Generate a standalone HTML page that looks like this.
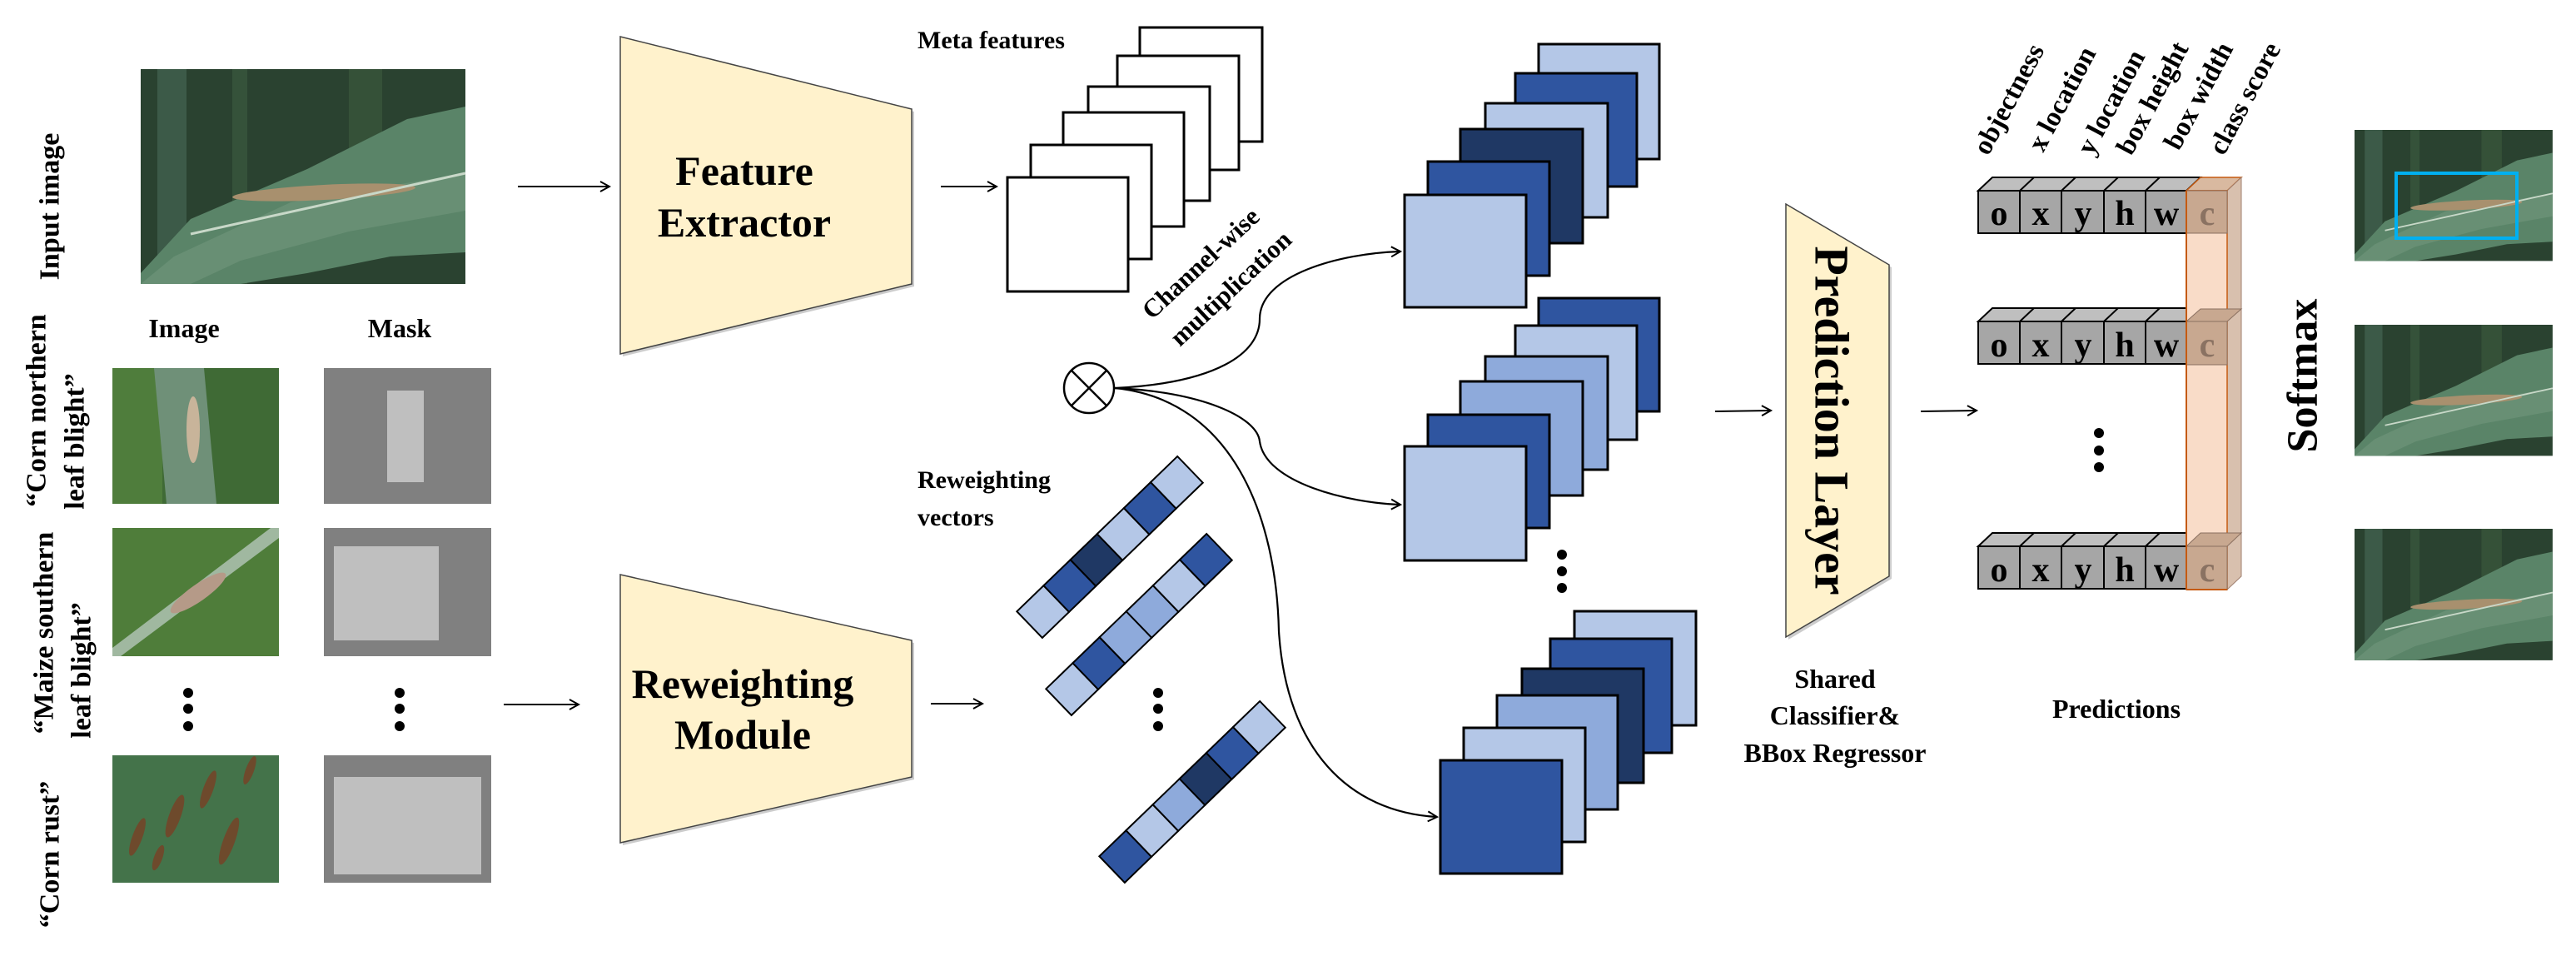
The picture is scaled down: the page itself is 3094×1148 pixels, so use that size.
<!DOCTYPE html>
<html><head><meta charset="utf-8"><style>
html,body{margin:0;padding:0;background:#fff;}
svg{display:block;}
text{font-family:"Liberation Serif",serif;font-weight:bold;fill:#000;}
</style></head><body>
<svg width="3094" height="1148" viewBox="0 0 3094 1148" xmlns="http://www.w3.org/2000/svg">
<defs>
<marker id="ar" markerWidth="14" markerHeight="14" refX="12" refY="7" orient="auto" markerUnits="userSpaceOnUse">
<polyline points="1,1 12,7 1,13" fill="none" stroke="#000" stroke-width="2"/>
</marker>
<g id="leafimg">
<rect x="0" y="0" width="390" height="258" fill="#2a4230"/>
<rect x="20" y="0" width="35" height="258" fill="#4a6b58" opacity="0.6"/>
<rect x="110" y="0" width="18" height="258" fill="#3a5a3e" opacity="0.7"/>
<rect x="250" y="0" width="40" height="120" fill="#40603f" opacity="0.5"/>
<polygon points="0,245 60,180 200,120 320,60 390,45 390,220 300,225 200,245 120,258 0,258" fill="#5a8468"/>
<polygon points="0,258 40,225 180,160 390,125 390,170 250,195 120,230 60,258" fill="#688f74"/>
<ellipse cx="220" cy="148" rx="110" ry="9" fill="#a8906e" transform="rotate(-3 220 148)"/>
<line x1="60" y1="198" x2="390" y2="125" stroke="#c8d8c8" stroke-width="3"/>
</g>
</defs>

<!-- Input image -->
<use href="#leafimg" x="169" y="83"/>
<text transform="translate(60,248) rotate(-90)" text-anchor="middle" dominant-baseline="central" font-size="34">Input image</text>

<!-- Feature extractor -->
<polygon points="748,47 1098,134 1098,344 748,428" fill="#999" opacity="0.5"/>
<polygon points="745,44 1095,131 1095,341 745,425" fill="#fff2cc" stroke="#444" stroke-width="1.5"/>
<text x="894" y="222" text-anchor="middle" font-size="50">Feature</text>
<text x="894" y="284" text-anchor="middle" font-size="50">Extractor</text>
<line x1="622" y1="224" x2="732" y2="224" stroke="#000" stroke-width="2" marker-end="url(#ar)"/>

<!-- Image/Mask -->
<text x="221" y="405" text-anchor="middle" font-size="32">Image</text>
<text x="480" y="405" text-anchor="middle" font-size="32">Mask</text>

<!-- small images -->
<rect x="135" y="442" width="200" height="163" fill="#3f6a35"/>
<rect x="135" y="442" width="60" height="163" fill="#4f7d3c"/>
<polygon points="185,442 245,442 260,605 200,605" fill="#6f9078"/>
<ellipse cx="232" cy="516" rx="8" ry="40" fill="#c8b49a"/>
<rect x="135" y="634" width="200" height="154" fill="#4f7d3a"/>
<polygon points="135,778 325,634 335,634 335,646 145,788 135,788" fill="#a0b8a0"/>
<ellipse cx="238" cy="712" rx="40" ry="10" fill="#b59a88" transform="rotate(-35 238 712)"/>
<rect x="135" y="907" width="200" height="153" fill="#44734a"/>
<g fill="#6e4a2c">
<ellipse cx="165" cy="1005" rx="6" ry="24" transform="rotate(20 165 1005)"/>
<ellipse cx="210" cy="980" rx="7" ry="27" transform="rotate(20 210 980)"/>
<ellipse cx="250" cy="948" rx="6" ry="24" transform="rotate(20 250 948)"/>
<ellipse cx="275" cy="1010" rx="7" ry="30" transform="rotate(20 275 1010)"/>
<ellipse cx="300" cy="925" rx="5" ry="18" transform="rotate(20 300 925)"/>
<ellipse cx="190" cy="1030" rx="5" ry="16" transform="rotate(20 190 1030)"/>
</g>

<!-- masks -->
<rect x="389" y="442" width="201" height="163" fill="#808080"/>
<rect x="465" y="469" width="44" height="110" fill="#bfbfbf"/>
<rect x="389" y="634" width="201" height="154" fill="#808080"/>
<rect x="401" y="656" width="126" height="113" fill="#bfbfbf"/>
<rect x="389" y="907" width="201" height="153" fill="#808080"/>
<rect x="401" y="933" width="177" height="117" fill="#bfbfbf"/>

<g fill="#000">
<circle cx="226" cy="832" r="6"/><circle cx="226" cy="851" r="6"/><circle cx="226" cy="872" r="6"/>
<circle cx="480" cy="832" r="6"/><circle cx="480" cy="851" r="6"/><circle cx="480" cy="872" r="6"/>
</g>

<!-- left rotated labels -->
<text transform="translate(44,493) rotate(-90)" text-anchor="middle" dominant-baseline="central" font-size="34">“Corn northern</text>
<text transform="translate(90,530) rotate(-90)" text-anchor="middle" dominant-baseline="central" font-size="34">leaf blight”</text>
<text transform="translate(53,760) rotate(-90)" text-anchor="middle" dominant-baseline="central" font-size="34">“Maize southern</text>
<text transform="translate(98,805) rotate(-90)" text-anchor="middle" dominant-baseline="central" font-size="34">leaf blight”</text>
<text transform="translate(60,1026) rotate(-90)" text-anchor="middle" dominant-baseline="central" font-size="34">“Corn rust”</text>

<!-- Reweighting module -->
<line x1="605" y1="846" x2="695" y2="846" stroke="#000" stroke-width="2" marker-end="url(#ar)"/>
<polygon points="748,693 1098,772 1098,936 748,1015" fill="#999" opacity="0.5"/>
<polygon points="745,690 1095,769 1095,933 745,1012" fill="#fff2cc" stroke="#444" stroke-width="1.5"/>
<text x="892" y="838" text-anchor="middle" font-size="50">Reweighting</text>
<text x="892" y="899" text-anchor="middle" font-size="50">Module</text>

<!-- Meta features -->
<text x="1102" y="58" font-size="30">Meta features</text>
<line x1="1130" y1="224" x2="1197" y2="224" stroke="#000" stroke-width="2" marker-end="url(#ar)"/>
<g fill="#fff" stroke="#000" stroke-width="3">
<rect x="1369" y="33" width="147" height="137"/>
<rect x="1342" y="67" width="146" height="137"/>
<rect x="1307" y="104" width="146" height="137"/>
<rect x="1277" y="135" width="145" height="137"/>
<rect x="1238" y="174" width="145" height="137"/>
<rect x="1210" y="213" width="145" height="137"/>
</g>
<text transform="translate(1442,316) rotate(-43)" text-anchor="middle" dominant-baseline="central" font-size="31">Channel-wise</text>
<text transform="translate(1478,346) rotate(-43)" text-anchor="middle" dominant-baseline="central" font-size="31">multiplication</text>

<!-- otimes -->
<circle cx="1308" cy="466" r="30" fill="#fff" stroke="#000" stroke-width="2.5"/>
<line x1="1287" y1="445" x2="1329" y2="487" stroke="#000" stroke-width="2.5"/>
<line x1="1329" y1="445" x2="1287" y2="487" stroke="#000" stroke-width="2.5"/>

<!-- curves -->
<g fill="none" stroke="#000" stroke-width="2.2">
<path d="M1339,466 C1460,460 1513,425 1513,383 C1513,330 1610,304 1682,302" marker-end="url(#ar)"/>
<path d="M1339,466 C1440,470 1510,500 1513,530 C1520,580 1620,604 1682,606" marker-end="url(#ar)"/>
<path d="M1339,466 C1480,480 1533,620 1536,758 C1545,900 1620,975 1726,981" marker-end="url(#ar)"/>
</g>

<!-- Reweighting vectors -->
<text x="1102" y="586" font-size="30">Reweighting</text>
<text x="1102" y="631" font-size="30">vectors</text>
<line x1="1118" y1="845" x2="1180" y2="845" stroke="#000" stroke-width="2" marker-end="url(#ar)"/>
<g stroke="#000" stroke-width="2">
<g transform="translate(1333,657) rotate(-44)">
<rect x="-134" y="-22" width="44.7" height="44" fill="#b4c7e7"/>
<rect x="-89.3" y="-22" width="44.7" height="44" fill="#2f55a0"/>
<rect x="-44.6" y="-22" width="44.7" height="44" fill="#1f3864"/>
<rect x="0" y="-22" width="44.7" height="44" fill="#b4c7e7"/>
<rect x="44.7" y="-22" width="44.7" height="44" fill="#2f55a0"/>
<rect x="89.4" y="-22" width="44.7" height="44" fill="#b4c7e7"/>
</g>
<g transform="translate(1368,750) rotate(-44)">
<rect x="-134" y="-22" width="44.7" height="44" fill="#b4c7e7"/>
<rect x="-89.3" y="-22" width="44.7" height="44" fill="#2f55a0"/>
<rect x="-44.6" y="-22" width="44.7" height="44" fill="#8eaadb"/>
<rect x="0" y="-22" width="44.7" height="44" fill="#8eaadb"/>
<rect x="44.7" y="-22" width="44.7" height="44" fill="#b4c7e7"/>
<rect x="89.4" y="-22" width="44.7" height="44" fill="#2f55a0"/>
</g>
<g transform="translate(1432,951) rotate(-44)">
<rect x="-134" y="-22" width="44.7" height="44" fill="#2f55a0"/>
<rect x="-89.3" y="-22" width="44.7" height="44" fill="#b4c7e7"/>
<rect x="-44.6" y="-22" width="44.7" height="44" fill="#8eaadb"/>
<rect x="0" y="-22" width="44.7" height="44" fill="#1f3864"/>
<rect x="44.7" y="-22" width="44.7" height="44" fill="#2f55a0"/>
<rect x="89.4" y="-22" width="44.7" height="44" fill="#b4c7e7"/>
</g>
</g>
<g fill="#000"><circle cx="1391" cy="832" r="6"/><circle cx="1391" cy="851" r="6"/><circle cx="1391" cy="872" r="6"/></g>

<!-- stacks -->
<g stroke="#000" stroke-width="3">
<rect x="1848" y="53" width="145" height="138" fill="#b4c7e7"/>
<rect x="1820" y="88" width="146" height="136" fill="#2f55a0"/>
<rect x="1784" y="124" width="147" height="137" fill="#b4c7e7"/>
<rect x="1754" y="155" width="147" height="137" fill="#1f3864"/>
<rect x="1715" y="194" width="146" height="137" fill="#2f55a0"/>
<rect x="1687" y="234" width="146" height="135" fill="#b4c7e7"/>

<rect x="1848" y="358" width="145" height="136" fill="#2f55a0"/>
<rect x="1820" y="391" width="146" height="137" fill="#b4c7e7"/>
<rect x="1784" y="428" width="147" height="136" fill="#8eaadb"/>
<rect x="1754" y="458" width="147" height="137" fill="#8eaadb"/>
<rect x="1715" y="498" width="146" height="136" fill="#2f55a0"/>
<rect x="1687" y="536" width="146" height="137" fill="#b4c7e7"/>

<rect x="1891" y="734" width="146" height="137" fill="#b4c7e7"/>
<rect x="1862" y="767" width="146" height="137" fill="#2f55a0"/>
<rect x="1828" y="803" width="146" height="137" fill="#1f3864"/>
<rect x="1798" y="835" width="145" height="137" fill="#8eaadb"/>
<rect x="1758" y="874" width="146" height="137" fill="#b4c7e7"/>
<rect x="1730" y="913" width="146" height="136" fill="#2f55a0"/>
</g>
<g fill="#000"><circle cx="1876" cy="666" r="6"/><circle cx="1876" cy="686" r="6"/><circle cx="1876" cy="706" r="6"/></g>

<!-- Prediction layer -->
<line x1="2060" y1="494" x2="2127" y2="493" stroke="#000" stroke-width="2" marker-end="url(#ar)"/>
<polygon points="2148,248 2272,321 2272,695 2148,768" fill="#999" opacity="0.5"/>
<polygon points="2145,245 2269,318 2269,692 2145,765" fill="#fff2cc" stroke="#444" stroke-width="1.5"/>
<text transform="translate(2200,505) rotate(90)" text-anchor="middle" dominant-baseline="central" font-size="58">Prediction Layer</text>
<line x1="2307" y1="494" x2="2374" y2="493" stroke="#000" stroke-width="2" marker-end="url(#ar)"/>
<text x="2204" y="826" text-anchor="middle" font-size="32">Shared</text>
<text x="2204" y="870" text-anchor="middle" font-size="32">Classifier&amp;</text>
<text x="2204" y="915" text-anchor="middle" font-size="32">BBox Regressor</text>

<!-- prediction rows -->
<g id="row1">
<g stroke="#000" stroke-width="2">
<polygon points="2376,229 2393,213 2643,213 2626,229" fill="#bfbfbf"/>
<rect x="2376" y="229" width="50" height="51" fill="#a6a6a6"/>
<rect x="2426" y="229" width="50" height="51" fill="#a6a6a6"/>
<rect x="2476" y="229" width="51" height="51" fill="#a6a6a6"/>
<rect x="2527" y="229" width="50" height="51" fill="#a6a6a6"/>
<rect x="2577" y="229" width="49" height="51" fill="#a6a6a6"/>
<line x1="2426" y1="229" x2="2443" y2="213"/><line x1="2476" y1="229" x2="2493" y2="213"/><line x1="2527" y1="229" x2="2544" y2="213"/><line x1="2577" y1="229" x2="2594" y2="213"/>
</g>
</g>
<use href="#row1" y="157"/>
<use href="#row1" y="427"/>
<!-- orange class column -->
<polygon points="2626,229 2643,213 2692,213 2675,229" fill="#d9b9a0" stroke="#c55a11" stroke-width="1.5"/>
<polygon points="2675,229 2692,213 2692,692 2675,708" fill="#d8c0ae" stroke="#a08070" stroke-width="1"/>
<rect x="2626" y="229" width="49" height="479" fill="#f9dcc8" stroke="#c55a11" stroke-width="1.5"/>
<g fill="#c8a890" stroke="#8a7060" stroke-width="1">
<rect x="2626" y="229" width="49" height="51"/><rect x="2626" y="386" width="49" height="52"/><rect x="2626" y="656" width="49" height="52"/>
<polygon points="2626,386 2643,371 2692,371 2675,386"/>
<polygon points="2626,656 2643,640 2692,640 2675,656"/>
</g>
<line x1="2626" y1="229" x2="2626" y2="708" stroke="#c55a11" stroke-width="2"/>
<line x1="2626" y1="708" x2="2675" y2="708" stroke="#c55a11" stroke-width="2"/>
<g font-size="42" text-anchor="middle">
<text x="2401" y="270">o</text><text x="2451" y="270">x</text><text x="2502" y="270">y</text><text x="2552" y="270">h</text><text x="2602" y="270">w</text><text x="2651" y="270" style="fill:#8a7262">c</text>
<text x="2401" y="428">o</text><text x="2451" y="428">x</text><text x="2502" y="428">y</text><text x="2552" y="428">h</text><text x="2602" y="428">w</text><text x="2651" y="428" style="fill:#8a7262">c</text>
<text x="2401" y="698">o</text><text x="2451" y="698">x</text><text x="2502" y="698">y</text><text x="2552" y="698">h</text><text x="2602" y="698">w</text><text x="2651" y="698" style="fill:#8a7262">c</text>
</g>
<g fill="#000"><circle cx="2521" cy="520" r="6"/><circle cx="2521" cy="541" r="6"/><circle cx="2521" cy="561" r="6"/></g>
<text x="2542" y="862" text-anchor="middle" font-size="32">Predictions</text>

<!-- rotated column labels -->
<g font-size="33">
<text transform="translate(2388,188) rotate(-62)">objectness</text>
<text transform="translate(2454,184) rotate(-62)">x location</text>
<text transform="translate(2513,188) rotate(-62)">y location</text>
<text transform="translate(2560,188) rotate(-62)">box height</text>
<text transform="translate(2617,182) rotate(-62)">box width</text>
<text transform="translate(2671,188) rotate(-62)">class score</text>
</g>

<!-- Softmax -->
<text transform="translate(2766,451) rotate(-90)" text-anchor="middle" dominant-baseline="central" font-size="52">Softmax</text>

<!-- output images -->
<g transform="translate(2828,156) scale(0.61,0.61)"><use href="#leafimg"/></g>
<g transform="translate(2828,390) scale(0.61,0.61)"><use href="#leafimg"/></g>
<g transform="translate(2828,635) scale(0.61,0.612)"><use href="#leafimg"/></g>
<rect x="2878" y="208" width="145" height="78" fill="none" stroke="#00b0f0" stroke-width="4"/>
</svg>
</body></html>
